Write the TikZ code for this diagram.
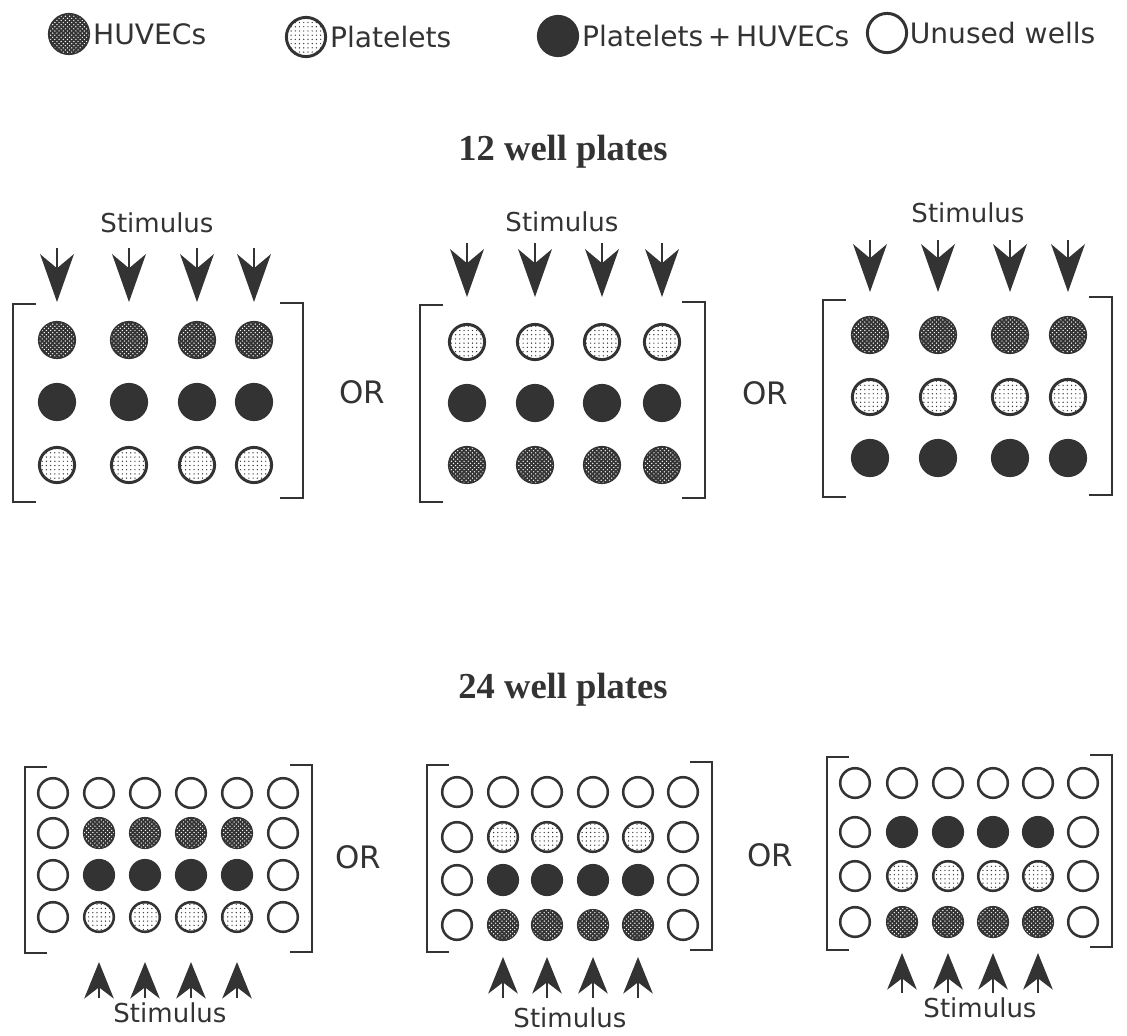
\documentclass[tikz,border=0pt]{standalone}
\usepackage{fontspec}
\setmainfont{DejaVu Sans}
\newfontfamily\titlefont{Liberation Serif}
\usetikzlibrary{arrows.meta, patterns, positioning}
\definecolor{ink}{gray}{0.2}

\begin{document}
\begin{tikzpicture}[x=0.025cm, y=-0.025cm,
    well/.style={circle, draw=ink, line width=2.1pt, inner sep=0pt, minimum size=0.88cm},
    smallwell/.style={minimum size=0.74cm, line width=1.8pt},
    legwell/.style={minimum size=0.98cm},
    huvec/.style={well, fill=ink, postaction={pattern=crosshatch dots, pattern color=white}},
    plat/.style={well, fill=white, postaction={pattern=dots, pattern color=ink}},
    both/.style={well, fill=ink},
    unused/.style={well, fill=white},
    brk/.style={draw=ink, line width=1.4pt},
    stimdown/.style={draw=ink, line width=1.6pt, -{Stealth[length=34pt, width=24pt, inset=10pt]}},
    stimup/.style={draw=ink, line width=1.6pt, -{Stealth[length=26pt, width=21pt, inset=8pt]}},
    lbl/.style={font=\fontsize{18.5}{22}\selectfont, text=ink},
    ortxt/.style={font=\fontsize{22}{26}\selectfont, text=ink},
    legtxt/.style={font=\fontsize{20}{24}\selectfont, text=ink, inner sep=0pt},
    ttl/.style={font=\titlefont\bfseries\fontsize{26}{30}\selectfont, text=ink, anchor=base}]
    \useasboundingbox (0,0) rectangle (1127,1035);

    % legend
    \node[huvec, legwell] (lh) at (69,34) {};
    \node[legtxt, right=2pt of lh] (lht) {HUVECs};
    \node[plat, legwell] (lp) at (306,37) {};
    \node[legtxt, right=2pt of lp] (lpt) {Platelets};
    \node[both, legwell] (lb) at (558,36) {};
    \node[legtxt, right=2pt of lb] (lbt) {Platelets\,+\,HUVECs};
    \node[unused, legwell] (lu) at (887,33) {};
    \node[legtxt, right=1pt of lu] (lut) {Unused wells};

    % 12 well plates
    \node[ttl] (t12) at (563,160) {12 well plates};

    % plate A
    \node[lbl] (sa) at (157,223) {Stimulus};
    \foreach \x [count=\i] in {57,129,197,254}{
        \node[huvec] (a1\i) at (\x,340) {};
        \node[both] (a2\i) at (\x,402) {};
        \node[plat] (a3\i) at (\x,465) {};
        \coordinate (as\i) at (\x,248);
        \coordinate (ae\i) at (\x,302);
        \draw[stimdown] (as\i) -- (ae\i);
    }
    \draw[brk] (36,304) -- (13,304) -- (13,502) -- (36,502);
    \draw[brk] (280,303) -- (303,303) -- (303,498) -- (280,498);
    \node[ortxt] (or1) at (362,392) {OR};

    % plate B
    \node[lbl] (sb) at (562,222) {Stimulus};
    \foreach \x [count=\i] in {467,535,602,662}{
        \node[plat] (b1\i) at (\x,342) {};
        \node[both] (b2\i) at (\x,403) {};
        \node[huvec] (b3\i) at (\x,465) {};
        \coordinate (bs\i) at (\x,243);
        \coordinate (be\i) at (\x,297);
        \draw[stimdown] (bs\i) -- (be\i);
    }
    \draw[brk] (443,305) -- (420,305) -- (420,502) -- (443,502);
    \draw[brk] (682,302) -- (705,302) -- (705,498) -- (682,498);
    \node[ortxt] (or2) at (765,393) {OR};

    % plate C
    \node[lbl] (sc) at (968,213) {Stimulus};
    \foreach \x [count=\i] in {870,938,1010,1068}{
        \node[huvec] (c1\i) at (\x,335) {};
        \node[plat] (c2\i) at (\x,397) {};
        \node[both] (c3\i) at (\x,458) {};
        \coordinate (cs\i) at (\x,240);
        \coordinate (ce\i) at (\x,292);
        \draw[stimdown] (cs\i) -- (ce\i);
    }
    \draw[brk] (846,300) -- (823,300) -- (823,497) -- (846,497);
    \draw[brk] (1089,297) -- (1112,297) -- (1112,495) -- (1089,495);

    % 24 well plates
    \node[ttl] (t24) at (563,698) {24 well plates};

    % plate D
    \foreach \x [count=\i] in {53,99,145,191,237,283}
        \node[unused, smallwell] (d1\i) at (\x,793) {};
    \foreach \x [count=\i] in {53,283}{
        \node[unused, smallwell] (dl2\i) at (\x,833) {};
        \node[unused, smallwell] (dl3\i) at (\x,875) {};
        \node[unused, smallwell] (dl4\i) at (\x,917) {};
    }
    \foreach \x [count=\i] in {99,145,191,237}{
        \node[huvec, smallwell] (d2\i) at (\x,833) {};
        \node[both, smallwell] (d3\i) at (\x,875) {};
        \node[plat, smallwell] (d4\i) at (\x,917) {};
        \coordinate (ds\i) at (\x,998);
        \coordinate (de\i) at (\x,962);
        \draw[stimup] (ds\i) -- (de\i);
    }
    \draw[brk] (47,767) -- (25,767) -- (25,953) -- (47,953);
    \draw[brk] (290,765) -- (312,765) -- (312,952) -- (290,952);
    \node[lbl] (sd) at (170,1013) {Stimulus};
    \node[ortxt] (or3) at (358,857) {OR};

    % plate E
    \foreach \x [count=\i] in {457,503,547,593,638,683}
        \node[unused, smallwell] (e1\i) at (\x,792) {};
    \foreach \x [count=\i] in {457,683}{
        \node[unused, smallwell] (el2\i) at (\x,837) {};
        \node[unused, smallwell] (el3\i) at (\x,880) {};
        \node[unused, smallwell] (el4\i) at (\x,925) {};
    }
    \foreach \x [count=\i] in {503,547,593,638}{
        \node[plat, smallwell] (e2\i) at (\x,837) {};
        \node[both, smallwell] (e3\i) at (\x,880) {};
        \node[huvec, smallwell] (e4\i) at (\x,925) {};
        \coordinate (es\i) at (\x,998);
        \coordinate (ee\i) at (\x,957);
        \draw[stimup] (es\i) -- (ee\i);
    }
    \draw[brk] (449,765) -- (427,765) -- (427,952) -- (449,952);
    \draw[brk] (690,762) -- (712,762) -- (712,950) -- (690,950);
    \node[lbl] (se) at (570,1018) {Stimulus};
    \node[ortxt] (or4) at (770,855) {OR};

    % plate F
    \foreach \x [count=\i] in {855,902,948,993,1038,1083}
        \node[unused, smallwell] (f1\i) at (\x,783) {};
    \foreach \x [count=\i] in {855,1083}{
        \node[unused, smallwell] (fl2\i) at (\x,832) {};
        \node[unused, smallwell] (fl3\i) at (\x,876) {};
        \node[unused, smallwell] (fl4\i) at (\x,922) {};
    }
    \foreach \x [count=\i] in {902,948,993,1038}{
        \node[both, smallwell] (f2\i) at (\x,832) {};
        \node[plat, smallwell] (f3\i) at (\x,876) {};
        \node[huvec, smallwell] (f4\i) at (\x,922) {};
        \coordinate (fs\i) at (\x,993);
        \coordinate (fe\i) at (\x,953);
        \draw[stimup] (fs\i) -- (fe\i);
    }
    \draw[brk] (849,757) -- (827,757) -- (827,950) -- (849,950);
    \draw[brk] (1090,755) -- (1112,755) -- (1112,947) -- (1090,947);
    \node[lbl] (sf) at (980,1008) {Stimulus};
\end{tikzpicture}
\end{document}
